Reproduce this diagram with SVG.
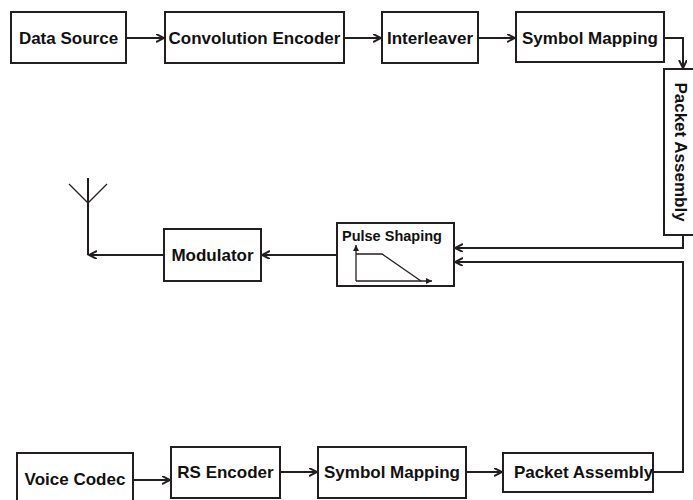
<svg xmlns="http://www.w3.org/2000/svg" width="693" height="500" viewBox="0 0 693 500">
  <defs>
    <style>
      .box { fill: #ffffff; stroke: #231f20; stroke-width: 2; }
      .lbl { font-family: "Liberation Sans", Arial, sans-serif; font-weight: bold; font-size: 17px; fill: #111; text-anchor: middle; }
      .small { font-size: 14.5px; text-anchor: start; }
      .wire { fill: none; stroke: #231f20; stroke-width: 2; }
      .thin { fill: none; stroke: #231f20; stroke-width: 1.3; }
    </style>
    <marker id="arrow" markerUnits="userSpaceOnUse" markerWidth="10" markerHeight="10" refX="8" refY="4" orient="auto">
      <path d="M0,0 L8,4 L0,8" fill="none" stroke="#231f20" stroke-width="2"/>
    </marker>
    <marker id="tip" markerUnits="userSpaceOnUse" markerWidth="8" markerHeight="8" refX="6" refY="3" orient="auto">
      <path d="M0,0 L6,3 L0,6 Z" fill="#231f20"/>
    </marker>
  </defs>

  <!-- data path, top row -->
  <g id="data-source">
    <rect class="box" x="11" y="12" width="115" height="51"/>
    <text class="lbl" x="68.5" y="44">Data Source</text>
  </g>
  <g id="convolution-encoder">
    <rect class="box" x="165" y="12" width="179" height="51"/>
    <text class="lbl" x="254.5" y="44">Convolution Encoder</text>
  </g>
  <g id="interleaver">
    <rect class="box" x="382" y="12" width="96" height="51"/>
    <text class="lbl" x="430" y="44">Interleaver</text>
  </g>
  <g id="symbol-mapping-data">
    <rect class="box" x="516" y="12" width="148" height="50"/>
    <text class="lbl" x="590" y="44">Symbol Mapping</text>
  </g>
  <g id="packet-assembly-data">
    <rect class="box" x="664" y="69" width="30" height="166"/>
    <text class="lbl" transform="translate(675,152) rotate(90)">Packet Assembly</text>
  </g>

  <!-- transmit stage -->
  <g id="pulse-shaping">
    <rect class="box" x="337" y="223" width="117" height="63"/>
    <text class="lbl small" x="342" y="241">Pulse Shaping</text>
    <line class="thin" x1="356" y1="281" x2="356" y2="245" marker-end="url(#tip)"/>
    <line class="thin" x1="356" y1="281" x2="432" y2="281" marker-end="url(#tip)"/>
    <polyline class="thin" points="356,254 382,254 421,281"/>
  </g>
  <g id="modulator">
    <rect class="box" x="164" y="229" width="97" height="52"/>
    <text class="lbl" x="212.5" y="261">Modulator</text>
  </g>
  <g id="antenna">
    <line class="wire" x1="88" y1="255" x2="88" y2="178"/>
    <line class="thin" x1="69" y1="184" x2="88" y2="203"/>
    <line class="thin" x1="107" y1="184" x2="88" y2="203"/>
  </g>

  <!-- voice path, bottom row -->
  <g id="voice-codec">
    <rect class="box" x="17" y="453" width="116" height="60"/>
    <text class="lbl" x="75" y="485">Voice Codec</text>
  </g>
  <g id="rs-encoder">
    <rect class="box" x="171" y="447" width="109" height="51"/>
    <text class="lbl" x="225.5" y="478">RS Encoder</text>
  </g>
  <g id="symbol-mapping-voice">
    <rect class="box" x="318" y="447" width="148" height="51"/>
    <text class="lbl" x="392" y="478">Symbol Mapping</text>
  </g>
  <g id="packet-assembly-voice">
    <rect class="box" x="503" y="453" width="150" height="39"/>
    <text class="lbl" x="583.5" y="478">Packet Assembly</text>
  </g>

  <!-- connectors -->
  <g id="connectors">
    <line class="wire" x1="126" y1="38" x2="164" y2="38" marker-end="url(#arrow)"/>
    <line class="wire" x1="344" y1="38" x2="381" y2="38" marker-end="url(#arrow)"/>
    <line class="wire" x1="478" y1="38" x2="515" y2="38" marker-end="url(#arrow)"/>
    <polyline class="wire" points="664,38 683,38 683,68" marker-end="url(#arrow)"/>
    <polyline class="wire" points="683,235 683,248 455,248" marker-end="url(#arrow)"/>
    <polyline class="wire" points="653,472 683,472 683,262 455,262" marker-end="url(#arrow)"/>
    <line class="wire" x1="337" y1="255" x2="262" y2="255" marker-end="url(#arrow)"/>
    <line class="wire" x1="164" y1="255" x2="89" y2="255" marker-end="url(#arrow)"/>
    <line class="wire" x1="133" y1="480" x2="170" y2="480" marker-end="url(#arrow)"/>
    <line class="wire" x1="280" y1="472" x2="317" y2="472" marker-end="url(#arrow)"/>
    <line class="wire" x1="466" y1="472" x2="502" y2="472" marker-end="url(#arrow)"/>
  </g>
</svg>
